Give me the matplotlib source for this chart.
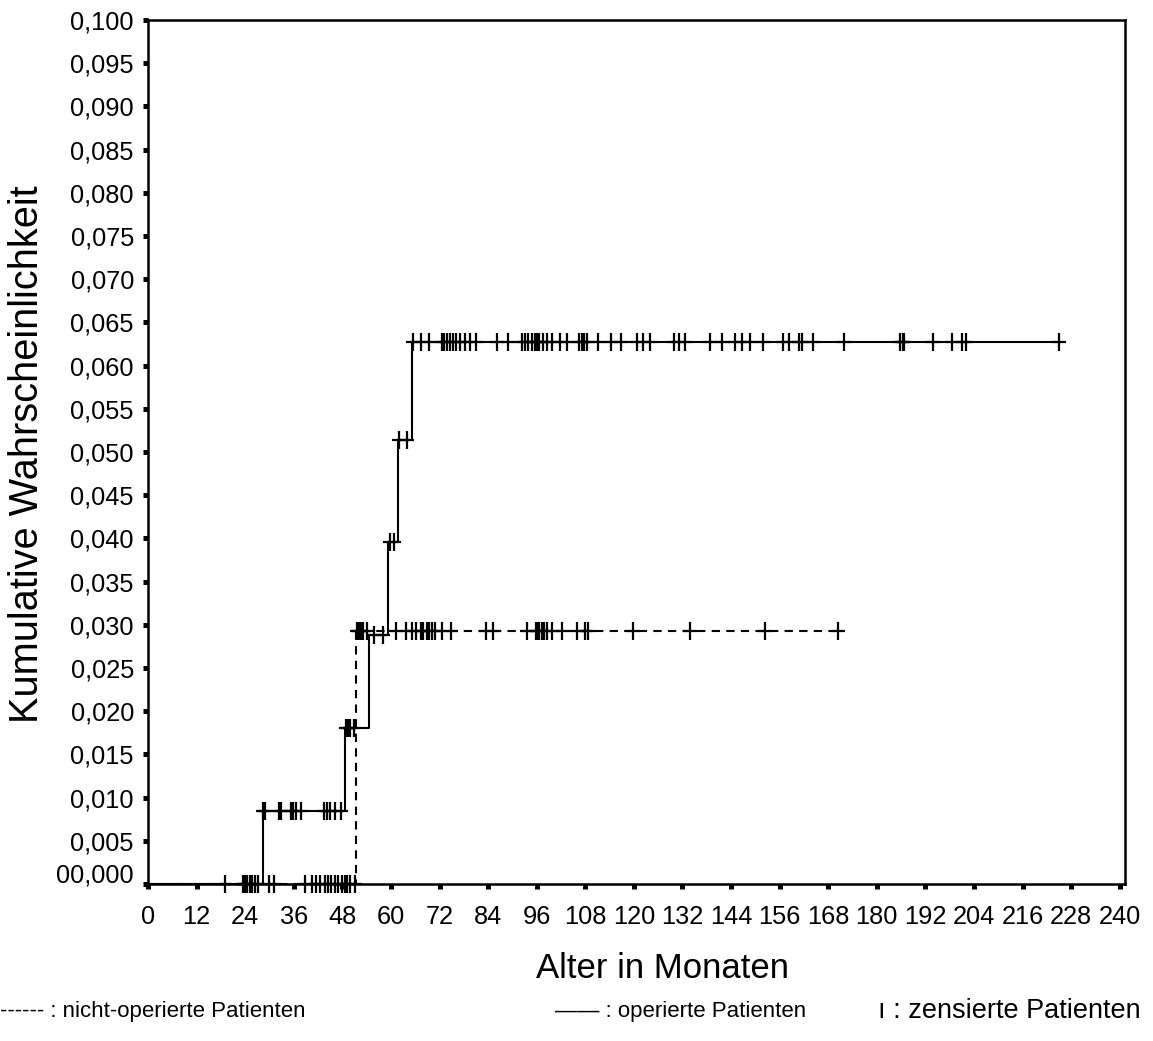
import numpy as np
import matplotlib
matplotlib.use("Agg")
import matplotlib.pyplot as plt
from matplotlib.path import Path
from matplotlib.transforms import ScaledTranslation

plt.rcParams['font.family'] = ['Liberation Sans', 'DejaVu Sans']

# ---- data (months, cumulative probability) ----
op_step_times = [0, 28.3, 48.6, 54.5, 59.3, 61.7, 65.3]
op_step_levels = [0.0, 0.00845, 0.0181, 0.0288, 0.0396, 0.0514, 0.0627]
op_end = 224.9
op_censored = [28.4, 28.8, 32.4, 32.8, 35.4, 35.8, 36.5, 37.9, 43.4, 44.2, 44.9, 46.1, 47.6,
               48.8, 49.3, 49.8, 50.8,
               55.9, 58.1,
               59.8, 60.8,
               62.0, 64.0,
               65.5, 67.4, 69.3, 72.5, 73.1, 73.8, 74.6, 75.3, 76.0, 77.0, 78.3, 79.5, 81.1,
               86.1, 89.0, 92.3, 93.1, 93.9, 94.8, 95.6, 96.0, 96.6, 97.5, 98.5, 99.7,
               101.8, 103.4, 106.5, 107.1, 107.7, 108.4, 111.2, 114.3, 116.8, 120.7,
               122.3, 124.0, 129.8, 131.2, 132.7, 138.8, 141.7, 145.0, 146.7, 148.7,
               152.0, 156.9, 158.4, 160.9, 161.5, 164.3, 171.8, 185.8, 186.5, 186.8,
               193.9, 198.6, 201.0, 202.1, 224.9]

nop_step_times = [0, 51.3]
nop_step_levels = [0.0, 0.0293]
nop_end = 170.5
nop_censored = [19.1, 23.5, 23.9, 24.5, 25.1, 25.8, 26.5, 27.2, 29.9, 31.1, 38.7, 40.4,
                41.4, 42.4, 43.7, 44.5, 45.3, 46.1, 47.0, 47.8, 48.6, 49.2, 49.9, 51.1,
                51.5, 52.0, 52.6, 53.2, 54.0, 61.3, 63.8, 65.2, 66.2, 67.4, 68.0, 68.8,
                69.4, 70.2, 71.0, 72.6, 74.8, 83.6, 85.3, 93.5, 95.8, 96.1, 96.6, 97.2,
                97.8, 98.5, 99.7, 102.2, 105.9, 107.9, 108.7, 119.9, 133.9, 152.4, 170.5]

xticks = list(range(0, 241, 12))
yticks = [i * 0.005 for i in range(21)]
ytick_labels = ["00,000"] + ["0,%03d" % (i * 5) for i in range(1, 21)]

# ---- figure ----
W, H = 1153, 1041
fig = plt.figure(figsize=(W / 100, H / 100), dpi=100)
ax = fig.add_axes([148 / W, 1 - 884 / H, (1125 - 148) / W, (884 - 20) / H])

cross = Path([(-0.8, 0), (0.8, 0), (0, -1), (0, 1)],
             [Path.MOVETO, Path.LINETO, Path.MOVETO, Path.LINETO])


def draw_group(times, levels, end, cens, dashed):
    xs = list(times) + [end]
    ys = list(levels) + [levels[-1]]
    kw = dict(color='black', lw=1.5, where='post', clip_on=False, zorder=3)
    if dashed:
        kw['dashes'] = (4, 3)
    ax.step(xs, ys, **kw)
    idx = np.searchsorted(times, cens, side='right') - 1
    cy = np.array(levels)[idx]
    ax.plot(cens, cy, linestyle='none', marker=cross, markersize=12.5,
            mew=1.6, color='black', clip_on=False, zorder=4)


draw_group(nop_step_times, nop_step_levels, nop_end, nop_censored, True)
draw_group(op_step_times, op_step_levels, op_end, op_censored, False)

ax.set_xlim(0, 241.3)
ax.set_ylim(0, 0.1)
ax.set_xticks(xticks)
ax.set_xticklabels([str(v) for v in xticks])
ax.set_yticks(yticks)
ax.set_yticklabels(ytick_labels)
for s in ax.spines.values():
    s.set_linewidth(1.8)
ax.tick_params(axis='both', direction='out', length=3.6, width=3.6,
               labelsize=18.3, color='black')
ax.tick_params(axis='y', pad=6.5)
ax.tick_params(axis='x', pad=11.5)
lbl0 = ax.get_yticklabels()[0]
lbl0.set_transform(lbl0.get_transform() + ScaledTranslation(0, 11 / 100, fig.dpi_scale_trans))

fig.text(662 / W, 1 - 968 / H, "Alter in Monaten", fontsize=25, ha='center', va='center')
fig.text(27 / W, 1 - 454 / H, "Kumulative Wahrscheinlichkeit", fontsize=28.6,
         rotation=90, ha='center', va='center')

ly = 1 - 1011 / H
fig.text(0 / W, ly, "------ : nicht-operierte Patienten", fontsize=16, ha='left', va='center')
fig.text(555 / W, ly, "—— : operierte Patienten", fontsize=16, ha='left', va='center')
fig.text(878 / W, ly, "ı : zensierte Patienten", fontsize=19.5, ha='left', va='center')

fig.savefig("out.png", dpi=100)
